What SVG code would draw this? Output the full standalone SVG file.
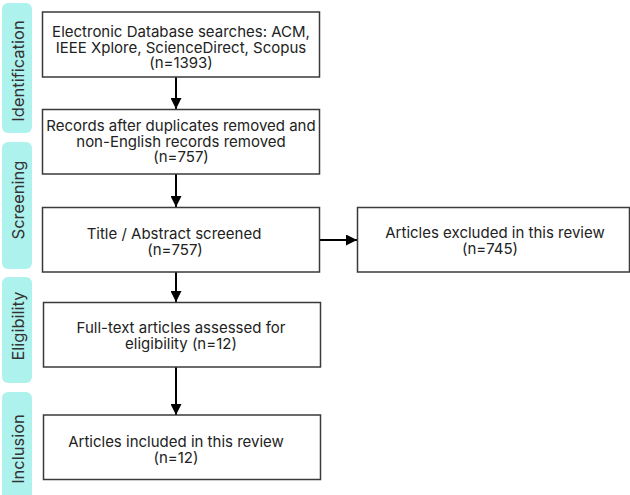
<svg xmlns="http://www.w3.org/2000/svg" width="630" height="495" viewBox="0 0 630 495">
<defs>
<style>
.band{fill:#aef2ee;}
.bl{font-family:Inter,"Liberation Sans",sans-serif;font-size:16.5px;fill:#333;text-anchor:middle;}
.box{fill:#fff;stroke:#3a3a3a;stroke-width:1.5;}
.t{font-family:Inter,"Liberation Sans",sans-serif;font-size:15px;fill:#222;text-anchor:middle;}
.c{stroke:#000;stroke-width:2;fill:none;}
</style>
<marker id="ah" viewBox="0 0 10 10" refX="10" refY="5" markerWidth="11" markerHeight="11" markerUnits="userSpaceOnUse" orient="auto">
<path d="M0,0 L10,5 L0,10 z" fill="#000"/>
</marker>
</defs>
<rect width="630" height="495" fill="#fff"/>
<g id="band-identification"><rect class="band" x="2" y="3" width="30" height="130" rx="6"/><text class="bl" transform="translate(24,71) rotate(-90)">Identification</text></g>
<g id="band-screening"><rect class="band" x="2" y="142" width="30" height="127" rx="6"/><text class="bl" transform="translate(24,200) rotate(-90)">Screening</text></g>
<g id="band-eligibility"><rect class="band" x="2" y="277" width="30" height="106" rx="6"/><text class="bl" transform="translate(24,326) rotate(-90)">Eligibility</text></g>
<g id="band-inclusion"><rect class="band" x="2" y="392" width="30" height="110" rx="6"/><text class="bl" transform="translate(24,449) rotate(-90)">Inclusion</text></g>

<g id="connectors">
<line class="c" x1="176" y1="77" x2="176" y2="109" marker-end="url(#ah)"/>
<line class="c" x1="176" y1="174" x2="176" y2="207" marker-end="url(#ah)"/>
<line class="c" x1="176" y1="272" x2="176" y2="302" marker-end="url(#ah)"/>
<line class="c" x1="176" y1="367" x2="176" y2="415" marker-end="url(#ah)"/>
<line class="c" x1="319" y1="240" x2="357" y2="240" marker-end="url(#ah)"/>
</g>

<g id="n1"><rect class="box" x="42.5" y="12" width="277" height="65"/>
<text class="t" x="181" y="37">Electronic Database searches: ACM,</text>
<text class="t" x="181" y="52.5">IEEE Xplore, ScienceDirect, Scopus</text>
<text class="t" x="181" y="68">(n=1393)</text></g>
<g id="n2"><rect class="box" x="42.5" y="109.5" width="277" height="64.5"/>
<text class="t" x="181" y="131">Records after duplicates removed and</text>
<text class="t" x="181" y="146.5">non-English records removed</text>
<text class="t" x="181" y="162">(n=757)</text></g>
<g id="n3"><rect class="box" x="42.5" y="207.5" width="277" height="64.5"/>
<text class="t" x="174" y="239">Title / Abstract screened</text>
<text class="t" x="175" y="255">(n=757)</text></g>
<g id="n4"><rect class="box" x="357.5" y="207.5" width="272" height="64.5"/>
<text class="t" x="495" y="237.5">Articles excluded in this review</text>
<text class="t" x="490" y="254">(n=745)</text></g>
<g id="n5"><rect class="box" x="43.5" y="302.5" width="277" height="64.5"/>
<text class="t" x="181" y="333">Full-text articles assessed for</text>
<text class="t" x="181" y="349">eligibility (n=12)</text></g>
<g id="n6"><rect class="box" x="43.5" y="415" width="277" height="64.5"/>
<text class="t" x="176" y="447">Articles included in this review</text>
<text class="t" x="176" y="463">(n=12)</text></g>
</svg>
